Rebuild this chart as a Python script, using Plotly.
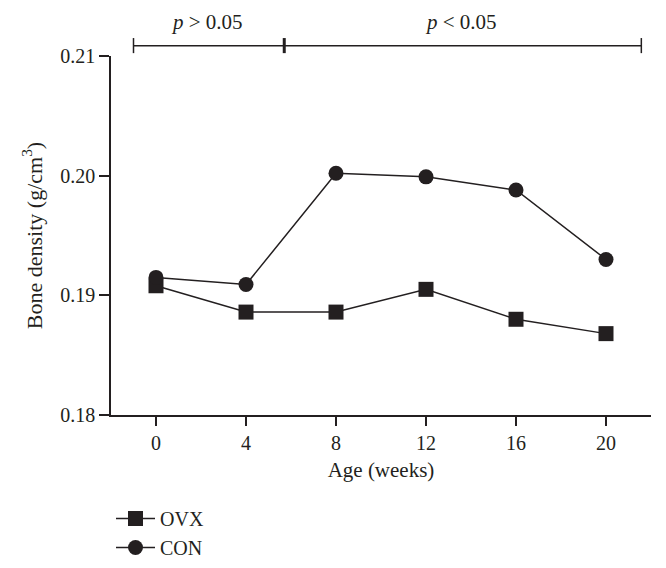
import plotly.graph_objects as go

weeks = [0, 4, 8, 12, 16, 20]
ovx = [0.1908, 0.1886, 0.1886, 0.1905, 0.1880, 0.1868]
con = [0.1915, 0.1909, 0.2002, 0.1999, 0.1988, 0.1930]
x_ticks = [0, 4, 8, 12, 16, 20]
y_ticks = [0.18, 0.19, 0.20, 0.21]
y_tick_labels = ["0.18", "0.19", "0.20", "0.21"]
bracket_x = [-1.0, 5.7, 21.57]
bracket_labels = ["<i>p</i> > 0.05", "<i>p</i> < 0.05"]

ink = "#231f20"
font_family = "Liberation Serif, Times New Roman, serif"

fig = go.Figure()
fig.add_trace(go.Scatter(
    x=weeks, y=ovx, name="OVX", mode="lines+markers",
    line=dict(color=ink, width=1.5),
    marker=dict(symbol="square", size=15, color=ink),
    cliponaxis=False,
))
fig.add_trace(go.Scatter(
    x=weeks, y=con, name="CON", mode="lines+markers",
    line=dict(color=ink, width=1.5),
    marker=dict(symbol="circle", size=15, color=ink),
    cliponaxis=False,
))

# significance bracket
by = 1.0287
fig.add_shape(type="line", xref="x", yref="paper", x0=bracket_x[0], x1=bracket_x[2],
              y0=by, y1=by, line=dict(color=ink, width=1.5))
for i, bx in enumerate(bracket_x):
    fig.add_shape(type="line", xref="x", yref="paper", x0=bx, x1=bx,
                  y0=1.008, y1=1.050,
                  line=dict(color=ink, width=3 if i == 1 else 1.5))
for lab, a, b in zip(bracket_labels, bracket_x[:-1], bracket_x[1:]):
    fig.add_annotation(text=lab, xref="x", yref="paper", x=(a + b) / 2 - 0.1, y=1.094,
                       xanchor="center", yanchor="middle",
                       showarrow=False, font=dict(size=21, color=ink, family=font_family))

fig.update_layout(
    width=666, height=568,
    margin=dict(l=103, r=22.5, t=48, b=161, autoexpand=False),
    paper_bgcolor="white", plot_bgcolor="white",
    font=dict(family=font_family, size=18, color=ink),
    showlegend=True,
    legend=dict(x=0.0, y=-0.234,
                xanchor="left", yanchor="top", itemwidth=39,
                font=dict(size=20, color=ink, family=font_family),
                bgcolor="rgba(0,0,0,0)"),
    xaxis=dict(
        range=[-2, 22], tickvals=x_ticks, showline=True, linecolor=ink, linewidth=1.5,
        ticks="outside", ticklen=9, tickwidth=1.5, tickcolor=ink,
        showgrid=False, zeroline=False,
        title=dict(text="Age (weeks)", standoff=10, font=dict(size=21)),
        tickfont=dict(size=20),
    ),
    yaxis=dict(
        range=[0.18, 0.21], tickvals=y_ticks, ticktext=y_tick_labels,
        showline=True, linecolor=ink, linewidth=1.5,
        ticks="outside", ticklen=10, tickwidth=1.5, tickcolor=ink,
        showgrid=False, zeroline=False,
        title=dict(text="Bone density (g/cm<sup>3</sup>)", standoff=12, font=dict(size=22)),
        tickfont=dict(size=20),
    ),
)

fig.write_html("out.html")
